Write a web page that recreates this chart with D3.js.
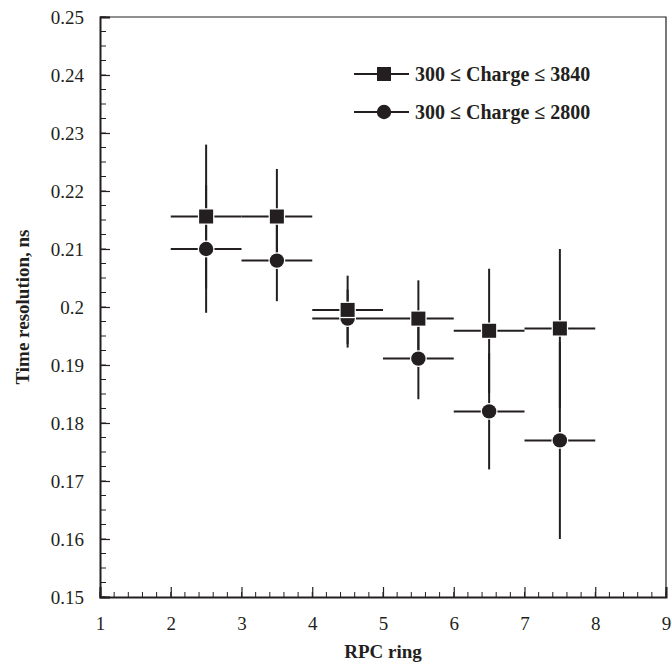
<!DOCTYPE html>
<html>
<head>
<meta charset="utf-8">
<script src="https://cdn.jsdelivr.net/npm/d3@7"></script>
<style>
  body { margin: 0; background: #fff; }
  text { font-family: "Liberation Serif", "Times New Roman", serif; fill: #231f20; }
</style>
</head>
<body>
<div id="graph"></div>
<script>
var ink = "#231f20";
var rings = [2.5, 3.5, 4.5, 5.5, 6.5, 7.5];
var ringHalfWidth = [0.5, 0.5, 0.5, 0.5, 0.5, 0.5];
var resHigh = [0.2156, 0.2156, 0.1995, 0.1980, 0.1959, 0.1963];   // 300 <= Charge <= 3840
var errHigh = [0.0124, 0.0082, 0.0059, 0.0066, 0.0107, 0.0137];
var resLow = [0.2100, 0.2080, 0.1980, 0.1911, 0.1820, 0.1770];    // 300 <= Charge <= 2800
var errLow = [0.0110, 0.0070, 0.0050, 0.0070, 0.0100, 0.0170];
var seriesNames = ["300 \u2264 Charge \u2264 3840", "300 \u2264 Charge \u2264 2800"];
var xTicks = [1, 2, 3, 4, 5, 6, 7, 8, 9];
var yTicks = [0.15, 0.16, 0.17, 0.18, 0.19, 0.2, 0.21, 0.22, 0.23, 0.24, 0.25];

var width = 672, height = 668;
var margins = {top: 17, right: 6, bottom: 71, left: 100};

var svg = d3.select('#graph')
  .append('svg')
  .attr('width', width)
  .attr('height', height);

var x = d3.scaleLinear().domain([1, 9]).range([margins.left, width - margins.right]);
var y = d3.scaleLinear().domain([0.15, 0.25]).range([height - margins.bottom, margins.top]);

/* frame: top and right lines */
svg.append('path')
  .attr('d', 'M' + x(1) + ',' + y(0.25) + 'H' + x(9) + 'V' + y(0.15))
  .attr('fill', 'none')
  .attr('stroke', ink)
  .attr('stroke-width', 1.2);

/* minor ticks */
var xMinor = d3.range(1, 9.001, 0.2);
var yMinor = d3.range(0.15, 0.2501, 0.0025);

var xAxis = svg.append('g')
  .attr('transform', 'translate(0,' + y(0.15) + ')');
xAxis.selectAll('line.minor').data(xMinor).enter().append('line')
  .attr('x1', function(d) { return x(d); })
  .attr('x2', function(d) { return x(d); })
  .attr('y1', 0).attr('y2', -5)
  .attr('stroke', ink).attr('stroke-width', 1);
xAxis.call(d3.axisBottom(x).tickValues(xTicks).tickSize(-10).tickPadding(20)
  .tickFormat(d3.format('d')));

var yAxis = svg.append('g')
  .attr('transform', 'translate(' + x(1) + ',0)');
yAxis.selectAll('line.minor').data(yMinor).enter().append('line')
  .attr('y1', function(d) { return y(d); })
  .attr('y2', function(d) { return y(d); })
  .attr('x1', 0).attr('x2', 6)
  .attr('stroke', ink).attr('stroke-width', 1);
yAxis.call(d3.axisLeft(y).tickValues(yTicks).tickSize(-10).tickPadding(16)
  .tickFormat(function(d) { return String(+d.toFixed(2)); }));

svg.selectAll('.domain').attr('stroke', ink).attr('stroke-width', 2);
svg.selectAll('.tick line').attr('stroke', ink).attr('stroke-width', 1.2);
svg.selectAll('.tick text')
  .attr('font-family', '"Liberation Serif", serif')
  .attr('font-size', 19)
  .attr('fill', ink);
xAxis.selectAll('.tick text').attr('dy', '0.68em');

/* axis titles */
svg.append('text')
  .attr('x', (x(1) + x(9)) / 2)
  .attr('y', 658)
  .attr('text-anchor', 'middle')
  .attr('font-weight', 'bold')
  .attr('font-size', 19)
  .text('RPC ring');

svg.append('text')
  .attr('transform', 'translate(29,' + ((y(0.15) + y(0.25)) / 2) + ') rotate(-90)')
  .attr('text-anchor', 'middle')
  .attr('font-weight', 'bold')
  .attr('font-size', 19)
  .text('Time resolution, ns');

/* error bars and markers */
function drawSeries(values, errs) {
  var g = svg.append('g');
  rings.forEach(function(r, i) {
    g.append('line')
      .attr('x1', x(r)).attr('x2', x(r))
      .attr('y1', y(values[i] + errs[i])).attr('y2', y(values[i] - errs[i]))
      .attr('stroke', ink).attr('stroke-width', 2);
    g.append('line')
      .attr('x1', x(r - ringHalfWidth[i])).attr('x2', x(r + ringHalfWidth[i]))
      .attr('y1', y(values[i])).attr('y2', y(values[i]))
      .attr('stroke', ink).attr('stroke-width', 2);
  });
  return g;
}

function drawMarkers(values, shape) {
  var g = svg.append('g');
  rings.forEach(function(r, i) {
    if (shape === 'square') {
      g.append('rect')
        .attr('x', x(r) - 7).attr('y', y(values[i]) - 7)
        .attr('width', 14).attr('height', 14)
        .attr('fill', ink).attr('stroke', '#fff').attr('stroke-width', 2.5)
        .attr('paint-order', 'stroke');
    } else {
      g.append('circle')
        .attr('cx', x(r)).attr('cy', y(values[i])).attr('r', 7.2)
        .attr('fill', ink).attr('stroke', '#fff').attr('stroke-width', 2.5)
        .attr('paint-order', 'stroke');
    }
  });
}

drawSeries(resLow, errLow);
drawSeries(resHigh, errHigh);
drawMarkers(resLow, 'circle');
drawMarkers(resHigh, 'square');

/* legend */
var legend = svg.append('g').attr('transform', 'translate(354,74)');
seriesNames.forEach(function(name, i) {
  var row = legend.append('g').attr('transform', 'translate(0,' + (i * 38) + ')');
  row.append('line')
    .attr('x1', 0).attr('x2', 55).attr('y1', 0).attr('y2', 0)
    .attr('stroke', ink).attr('stroke-width', 2);
  if (i === 0) {
    row.append('rect').attr('x', 23).attr('y', -7).attr('width', 14).attr('height', 14)
      .attr('fill', ink);
  } else {
    row.append('circle').attr('cx', 30).attr('cy', 0).attr('r', 7.2).attr('fill', ink);
  }
  row.append('text')
    .attr('x', 61).attr('y', 7)
    .attr('font-weight', 'bold')
    .attr('font-size', 20)
    .text(name);
});
</script>
</body>
</html>
